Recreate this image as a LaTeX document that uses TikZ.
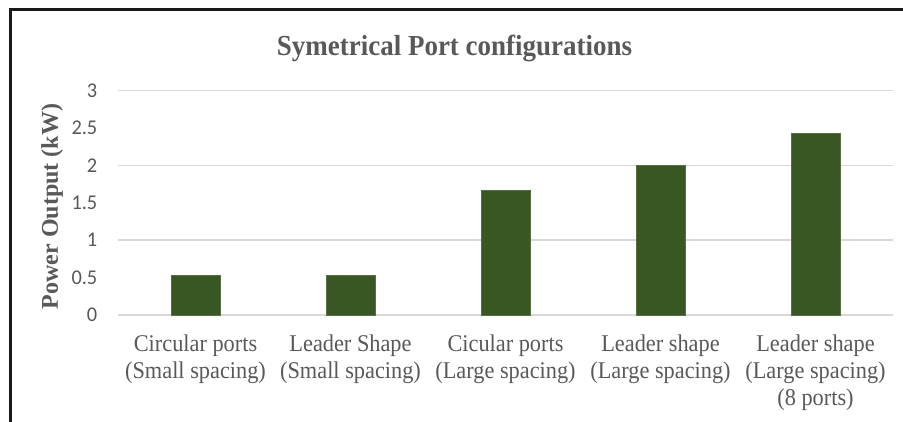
\documentclass[tikz,border=0pt]{standalone}
\usepackage{fontspec}
\setmainfont{Liberation Serif}
\newfontfamily\narrowserif{Liberation Serif}[FakeStretch=0.93]
\newfontfamily\tickfont{Carlito}[FakeStretch=0.97]
\definecolor{barfill}{RGB}{56,87,35}
\definecolor{labelgray}{RGB}{89,89,89}
\definecolor{gridgray}{RGB}{217,217,217}
\begin{document}
\begin{tikzpicture}[x=1pt,y=-1pt,
  gridline/.style={draw=gridgray,line width=1.3pt},
  bar/.style={fill=barfill,draw=barfill!85!white,line width=0.6pt},
  ticklabel/.style={anchor=east,inner sep=0pt,text=labelgray,font=\tickfont\fontsize{21}{24}\selectfont},
  catlabel/.style={anchor=north,inner sep=0pt,align=center,text=labelgray,font=\narrowserif\fontsize{24}{27}\selectfont},
  charttitle/.style={inner sep=0pt,text=labelgray,font=\narrowserif\bfseries\fontsize{29}{34}\selectfont},
  axistitle/.style={inner sep=0pt,rotate=90,text=labelgray,font=\rmfamily\bfseries\fontsize{24}{28}\selectfont},
  frameline/.style={draw=black!90,line width=2.6pt}]
\useasboundingbox (0,0) rectangle (903,421);
\fill[white] (0,0) rectangle (903,421);

% outer frame (top and left edges visible)
\coordinate (fbl) at (10.7,425);
\coordinate (ftl) at (10.7,9.7);
\coordinate (ftr) at (906,9.7);
\draw[frameline] (fbl) -- (ftl) -- (ftr);

% horizontal gridlines and value labels
\foreach \v/\t in {0/0,0.5/0.5,1/1,1.5/1.5,2/2,2.5/2.5,3/3}{
  \coordinate (gl\t) at (118,{315-74.9*\v});
  \coordinate (gr\t) at (893,{315-74.9*\v});
  \draw[gridline] (gl\t) -- (gr\t);
  \node[ticklabel] (tick\t) at (97.5,{315-74.9*\v}) {\t};
}

% bars
\foreach \i/\v in {1/0.53,2/0.53,3/1.66,4/2.0,5/2.42}{
  \path[bar] ({118+155*(\i-0.5)-24.5},315) rectangle ({118+155*(\i-0.5)+24.5},{315-74.9*\v});
}

% category labels
\node[catlabel] (c1) at (195.5,335) {Circular ports\\(Small spacing)};
\node[catlabel] (c2) at (350.5,335) {Leader Shape\\(Small spacing)};
\node[catlabel] (c3) at (505.5,335) {Cicular ports\\(Large spacing)};
\node[catlabel] (c4) at (660.5,335) {Leader shape\\(Large spacing)};
\node[catlabel] (c5) at (815.5,335) {Leader shape\\(Large spacing)\\(8 ports)};

% titles
\node[charttitle,anchor=base] (title) at (454.5,55) {Symetrical Port configurations};
\node[axistitle] (ytitle) at (52,206.5) {Power Output (kW)};
\end{tikzpicture}
\end{document}
